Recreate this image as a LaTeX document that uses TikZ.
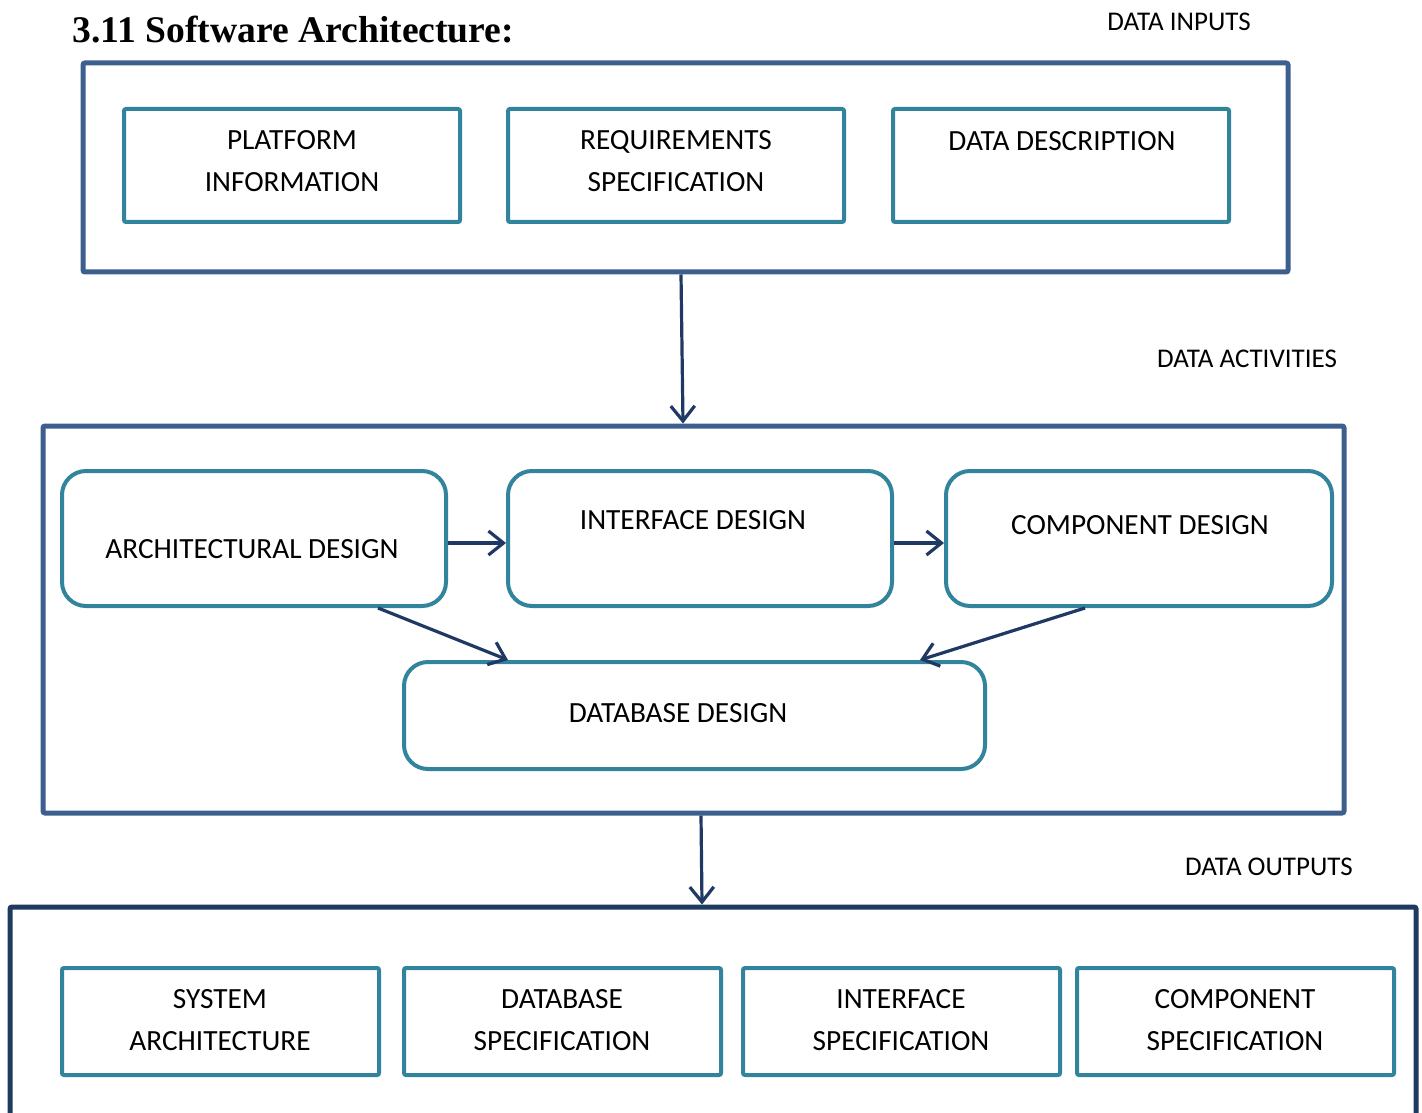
\documentclass[tikz,border=0pt]{standalone}
\usepackage{fontspec}
\setmainfont{Carlito}
\newfontfamily\headfont{Liberation Serif}
\usetikzlibrary{arrows.meta,fit}

\definecolor{groupblue}{HTML}{3D5F8E}
\definecolor{groupnavy}{HTML}{1F3A5F}
\definecolor{stepteal}{HTML}{31849B}
\definecolor{flownavy}{HTML}{1F3864}

\tikzset{
  group/.style={draw=groupblue, line width=2.5pt, rounded corners=1pt, inner sep=0pt},
  item/.style={draw=stepteal, line width=2pt, rounded corners=1pt, inner sep=0pt},
  stage/.style={draw=stepteal, line width=2pt, rounded corners=12pt, inner sep=0pt},
  txt/.style={font=\fontsize{14.65}{21}\selectfont, align=center, inner sep=0pt},
  tag/.style={font=\fontsize{13.5}{15}\selectfont, inner sep=0pt},
  flow/.style={draw=flownavy, line width=1.6pt, -{Straight Barb[length=7.5pt,width=12pt,line width=1.6pt]}}
}

\begin{document}
\begin{tikzpicture}[x=0.5pt,y=-0.5pt]
  \useasboundingbox (0,0) rectangle (1422,1112);
  \clip (0,0) rectangle (1422,1112);

  % heading
  \node[anchor=base west, inner sep=0pt, font=\headfont\bfseries\fontsize{18.8}{22}\selectfont]
    (title) at (72,43) {3.11 Software Architecture:};

  % data inputs
  \node[tag] (tin) at (1179,22) {DATA INPUTS};
  \node[group, fit={(83,63) (1288,272)}] (inputs) {};
  \node[item, fit={(124,109) (460,222)}] (plat) {};
  \node[item, fit={(508,109) (844,222)}] (reqs) {};
  \node[item, fit={(893,109) (1229,222)}] (ddes) {};
  \node[txt] (platt) at (292,161) {PLATFORM\\INFORMATION};
  \node[txt] (reqst) at (676,161) {REQUIREMENTS\\SPECIFICATION};
  \node[txt] (ddest) at (1062,141) {DATA DESCRIPTION};

  % data activities
  \node[tag] (tact) at (1247,359) {DATA ACTIVITIES};
  \node[group, fit={(43,426) (1344,813)}] (acts) {};
  \node[stage, fit={(62,471) (446,606)}] (arch) {};
  \node[stage, fit={(508,471) (892,606)}] (intf) {};
  \node[stage, fit={(946,471) (1332,606)}] (comp) {};
  \node[stage, fit={(404,662) (985,769)}] (dbd) {};
  \node[txt] (archt) at (252,549) {ARCHITECTURAL DESIGN};
  \node[txt] (intft) at (693,520) {INTERFACE DESIGN};
  \node[txt] (compt) at (1140,525) {COMPONENT DESIGN};
  \node[txt] (dbdt) at (678,713) {DATABASE DESIGN};

  % data outputs
  \node[tag] (tout) at (1269,867) {DATA OUTPUTS};
  \node[group, draw=groupnavy, fit={(10,907) (1416,1180)}] (outs) {};
  \node[item, fit={(62,968) (379,1075)}] (sysa) {};
  \node[item, fit={(404,968) (721,1075)}] (dbs) {};
  \node[item, fit={(743,968) (1060,1075)}] (ifs) {};
  \node[item, fit={(1077,968) (1394,1075)}] (cps) {};
  \node[txt] (sysat) at (220,1020) {SYSTEM\\ARCHITECTURE};
  \node[txt] (dbst) at (562,1020) {DATABASE\\SPECIFICATION};
  \node[txt] (ifst) at (901,1020) {INTERFACE\\SPECIFICATION};
  \node[txt] (cpst) at (1235,1020) {COMPONENT\\SPECIFICATION};

  % connectors
  \draw[flow] ([xshift=-2.25pt]inputs.south) -- ([xshift=-5.25pt]acts.north);
  \draw[flow] ([yshift=-2.25pt]arch.east) -- ([yshift=-2.25pt]intf.west);
  \draw[flow] ([yshift=-2.25pt]intf.east) -- ([yshift=-2.25pt]comp.west);
  \draw[flow] ([xshift=62pt]arch.south) -- ([xshift=-93.25pt]dbd.north);
  \draw[flow] ([xshift=-27pt]comp.south) -- ([xshift=112.75pt]dbd.north);
  \draw[flow] ([xshift=3.75pt]acts.south) -- ([xshift=-5.5pt]outs.north);
\end{tikzpicture}
\end{document}
